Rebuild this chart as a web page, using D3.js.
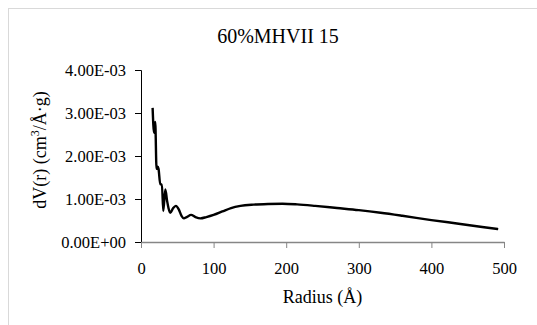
<!DOCTYPE html>
<html>
<head>
<meta charset="utf-8">
<script src="https://cdn.jsdelivr.net/npm/d3@7"></script>
</head>
<body style="margin:0">
<script>
// pore size distribution
const radius = [16, 18, 19.6, 21.4, 23, 24.2, 26.5, 28.8, 30.7, 33.5, 36, 38, 40.3, 44, 48, 52, 56, 59, 63, 69, 75, 82, 90, 100, 112, 124, 137, 155, 175, 195, 215, 240, 270, 300, 330, 360, 400, 440, 470, 492];
const dV = [3.12e-3, 2.54e-3, 2.79e-3, 1.70e-3, 1.75e-3, 1.70e-3, 1.34e-3, 1.34e-3, 0.72e-3, 1.22e-3, 0.95e-3, 0.78e-3, 0.68e-3, 0.78e-3, 0.84e-3, 0.76e-3, 0.60e-3, 0.55e-3, 0.58e-3, 0.63e-3, 0.58e-3, 0.55e-3, 0.58e-3, 0.63e-3, 0.71e-3, 0.79e-3, 0.84e-3, 0.87e-3, 0.885e-3, 0.89e-3, 0.875e-3, 0.84e-3, 0.79e-3, 0.74e-3, 0.68e-3, 0.61e-3, 0.51e-3, 0.42e-3, 0.35e-3, 0.30e-3];
const xTicks = [0, 100, 200, 300, 400, 500];
const yTicks = [0, 1e-3, 2e-3, 3e-3, 4e-3];

const W = 537, H = 325;
const margin = { left: 141, right: 33, top: 70, bottom: 83 };
const width = W - margin.left - margin.right;
const height = H - margin.top - margin.bottom;

const svg = d3.select("body").append("svg")
    .attr("width", W)
    .attr("height", H);

// outer chart border (runs off the right and bottom)
svg.append("rect")
    .attr("x", 8.5).attr("y", 8.5)
    .attr("width", W).attr("height", H)
    .attr("fill", "none")
    .attr("stroke", "#d9d9d9");

const g = svg.append("g")
    .attr("transform", "translate(" + margin.left + "," + margin.top + ")");

const x = d3.scaleLinear().domain([0, 500]).range([0, width]);
const y = d3.scaleLinear().domain([0, 4e-3]).range([height, 0]);

// Excel style 4.00E-03
const sci = v => {
  const [m, e] = v.toExponential(2).split("e");
  const n = Math.abs(+e);
  return m + "E" + (+e < 0 ? "-" : "+") + (n < 10 ? "0" : "") + n;
};

const yAxis = g.append("g")
    .call(d3.axisLeft(y).tickValues(yTicks).tickFormat(sci).tickSize(6).tickPadding(9));
yAxis.attr("font-family", "Liberation Serif").attr("font-size", 16.5);
yAxis.select(".domain").attr("stroke", "#000");
yAxis.selectAll(".tick line").attr("stroke", "#000");
yAxis.selectAll(".tick text")
    .style("font-family", "'Liberation Serif'")
    .style("font-size", "16.5px");

const xAxis = g.append("g")
    .attr("transform", "translate(0," + height + ")")
    .call(d3.axisBottom(x).tickValues(xTicks).tickSize(6).tickSizeOuter(0).tickPadding(14));
xAxis.attr("font-family", "Liberation Serif").attr("font-size", 16.5);
xAxis.select(".domain").attr("stroke", "#868686").attr("stroke-width", 1.3);
xAxis.selectAll(".tick line").attr("stroke", "#868686");
xAxis.selectAll(".tick text")
    .style("font-family", "'Liberation Serif'")
    .style("font-size", "16.5px");

// curve
const line = d3.line()
    .x((d, i) => x(radius[i]))
    .y(d => y(d))
    .curve(d3.curveMonotoneX);

g.append("path")
    .datum(dV)
    .attr("fill", "none")
    .attr("stroke", "#000")
    .attr("stroke-width", 2.4)
    .attr("stroke-linejoin", "round")
    .attr("d", line);

// title and axis labels
svg.append("text")
    .attr("x", 278).attr("y", 43)
    .attr("text-anchor", "middle")
    .style("font-family", "'Liberation Serif'")
    .style("font-size", "20px")
    .text("60%MHVII 15");

svg.append("text")
    .attr("x", margin.left + width / 2).attr("y", 303)
    .attr("text-anchor", "middle")
    .style("font-family", "'Liberation Serif'")
    .style("font-size", "18px")
    .text("Radius (Å)");

const yl = svg.append("text")
    .attr("transform", "translate(46,150) rotate(-90)")
    .attr("text-anchor", "middle")
    .style("font-family", "'Liberation Serif'")
    .style("font-size", "18px");
yl.append("tspan").text("dV(r) (cm");
yl.append("tspan").style("font-size", "12px").attr("dy", -7).text("3");
yl.append("tspan").attr("dy", 7).text("/Å·g)");
</script>
</body>
</html>
